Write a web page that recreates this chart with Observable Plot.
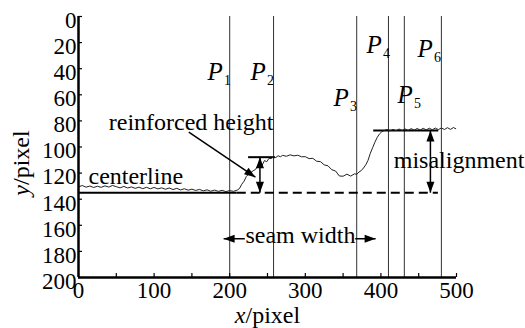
<!DOCTYPE html>
<html><head><meta charset="utf-8">
<script src="https://cdn.jsdelivr.net/npm/d3@7"></script>
<script src="https://cdn.jsdelivr.net/npm/@observablehq/plot@0.6"></script>
<style>body{margin:0;background:#fff} svg text{font-family:"Liberation Serif","Times New Roman","DejaVu Serif",serif !important}</style>
</head><body><div id="chart"></div>
<script>
// ---- data ----
const xTickLabels = [0, 100, 200, 300, 400, 500];
const xTickMarks = [0, 50, 100, 150, 200, 250, 300, 350, 400, 450, 500];
const yTickLabels = [0, 20, 40, 60, 80, 100, 120, 140, 160, 180, 200];

const profileX = [0,5,10,15,20,25,30,35,40,45,50,55,60,65,70,75,80,85,90,95,100,105,110,115,120,125,130,135,140,145,150,155,160,165,170,175,180,185,190,195,200,205,210,
  213,216,219,222,225,228,231,234,237,240,243,246,249,252,255,258,261,264,267,270,275,280,285,290,295,300,305,310,315,320,325,330,335,340,345,350,355,360,365,
  368,371,374,377,380,383,386,389,392,395,398,401,404,408,412,416,420,424,428,432,436,440,444,448,452,456,460,464,468,472,476,480,484,488,492,496,499];
const profileY = [130.6,129.5,130.8,129.9,131.0,130.1,130.9,129.8,130.7,129.5,130.4,131.3,130.2,131.4,130.6,131.7,130.8,131.9,130.9,132.0,131.0,132.1,131.3,132.4,131.4,132.6,131.7,132.9,132.0,133.1,132.3,133.3,132.5,133.6,132.8,133.9,133.0,134.0,133.2,134.2,133.4,134.0,133.0,
  131.8,128.5,126.2,122.6,120.8,119.6,118.2,117.3,114.6,112.4,113.9,110.4,111.3,108.7,108.9,107.3,108.1,106.7,107.5,106.4,107.1,106.0,106.8,106.3,107.5,107.4,108.9,108.7,110.9,111.2,113.7,114.4,117.4,118.4,122.2,122.4,120.8,122.3,120.6,
  120.9,119.2,118.1,116.1,113.6,110.2,104.8,100.6,96.4,92.8,90.1,88.4,87.4,86.6,87.7,86.5,87.6,86.2,87.4,86.1,87.3,85.9,87.1,85.8,87.0,85.7,86.9,85.6,86.8,85.5,86.7,85.4,86.6,85.2,86.5,85.1,86.0];

const pNames = ["1", "2", "3", "4", "5", "6"];
const pLineX = [200, 258, 368, 410, 431, 480];
const pLabelX = [170.6, 227.5, 337.2, 380.8, 421.8, 448.3];
const pLabelY = [49, 49, 68.2, 28.3, 66.6, 31.4];

const annoText = ["reinforced height", "centerline", "seam width", "misalignment"];
const annoX = [40, 13.2, 220.8, 417];
const annoY = [87.3, 128.2, 173.6, 115.9];

const centerY = 135;
const reinfTopY = 107.8, reinfX1 = 225, reinfX2 = 260.5, reinfArrowX = 240;
const misTopY = 87.3, misX1 = 390.5, misX2 = 476.5, misArrowX = 465.5;
const solidEndX = 210, dashEndX = 476;
const seamY = 170.3, seamLeftTip = 192, seamLeftStart = 220, seamRightStart = 366, seamRightTip = 393;
const diagX1 = 145.9, diagY1 = 88.6, diagX2 = 234, diagY2 = 123.1;

// ---- tables ----
const profile = profileX.map((x, i) => ({x, y: profileY[i]}));
const pLabels = pNames.map((n, i) => ({n, x: pLabelX[i], y: pLabelY[i]}));
const annos = annoText.map((t, i) => ({t, x: annoX[i], y: annoY[i]}));
const shafts = [
  {x1: reinfArrowX, y1: reinfTopY, x2: reinfArrowX, y2: centerY},
  {x1: misArrowX, y1: misTopY, x2: misArrowX, y2: centerY},
  {x1: seamLeftStart, y1: seamY, x2: seamLeftTip, y2: seamY},
  {x1: seamRightStart, y1: seamY, x2: seamRightTip, y2: seamY},
  {x1: diagX1, y1: diagY1, x2: diagX2, y2: diagY2}
];
const heads = [
  {x: reinfArrowX, y: reinfTopY, r: 0},
  {x: reinfArrowX, y: centerY, r: 180},
  {x: misArrowX, y: misTopY, r: 0},
  {x: misArrowX, y: centerY, r: 180},
  {x: seamLeftTip, y: seamY, r: -90},
  {x: seamRightTip, y: seamY, r: 90},
  {x: diagX2, y: diagY2, r: 124}
];
const arrowHead = {draw(ctx) { ctx.moveTo(0, 0); ctx.lineTo(-4, 11); ctx.lineTo(4, 11); ctx.closePath(); }};
const serif = "Liberation Serif";

const chart = Plot.plot({
  width: 525, height: 328,
  marginLeft: 78, marginRight: 69, marginTop: 16, marginBottom: 51,
  x: {domain: [0, 500], axis: null},
  y: {domain: [0, 200], reverse: true, axis: null},
  style: {fontFamily: serif, fontSize: "23px", color: "black", background: "white"},
  marks: [
    Plot.ruleX(pLineX, {stroke: "#333", strokeWidth: 1}),
    Plot.ruleY([centerY], {x1: 0, x2: solidEndX, stroke: "black", strokeWidth: 2}),
    Plot.ruleY([centerY], {x1: solidEndX, x2: dashEndX, stroke: "black", strokeWidth: 2, strokeDasharray: "9,5"}),
    Plot.ruleY([reinfTopY], {x1: reinfX1, x2: reinfX2, stroke: "black", strokeWidth: 2}),
    Plot.ruleY([misTopY], {x1: misX1, x2: misX2, stroke: "black", strokeWidth: 2}),
    Plot.line(profile, {x: "x", y: "y", stroke: "#222", strokeWidth: 1}),
    Plot.link(shafts, {x1: "x1", y1: "y1", x2: "x2", y2: "y2", stroke: "black", strokeWidth: 1.5}),
    Plot.dot(heads, {x: "x", y: "y", rotate: "r", symbol: arrowHead, fill: "black", stroke: "none"}),
    // axes
    Plot.ruleX([0], {stroke: "black", strokeWidth: 2.5}),
    Plot.ruleY([200], {x1: 0, x2: 500, stroke: "black", strokeWidth: 2.5}),
    Plot.tickX(xTickMarks, {x: d => d, insetTop: 257, stroke: "black", strokeWidth: 1.2}),
    Plot.tickY(yTickLabels, {y: d => d, insetRight: 374, stroke: "black", strokeWidth: 1.2}),
    Plot.text(xTickLabels, {x: d => d, y: 200, dy: 4, lineAnchor: "top", fontSize: 23, fontFamily: serif}),
    Plot.text(yTickLabels, {x: 0, y: d => d, dx: -2, dy: 4, textAnchor: "end", lineAnchor: "middle", fontSize: 23, fontFamily: serif}),
    // axis titles
    Plot.text(["x"], {frameAnchor: "bottom", dx: -22, dy: 45, textAnchor: "end", lineAnchor: "bottom", fontStyle: "italic", fontSize: 24, fontFamily: serif, text: d => d}),
    Plot.text(["/pixel"], {frameAnchor: "bottom", dx: -22, dy: 45, textAnchor: "start", lineAnchor: "bottom", fontSize: 24, fontFamily: serif, text: d => d}),
    Plot.text(["y"], {frameAnchor: "left", dx: -50, dy: 38, rotate: -90, textAnchor: "end", lineAnchor: "bottom", fontStyle: "italic", fontSize: 24, fontFamily: serif, text: d => d}),
    Plot.text(["/pixel"], {frameAnchor: "left", dx: -50, dy: 38, rotate: -90, textAnchor: "start", lineAnchor: "bottom", fontSize: 24, fontFamily: serif, text: d => d}),
    // P labels
    Plot.text(pLabels, {x: "x", y: "y", text: () => "P", fontStyle: "italic", fontSize: 25, fontFamily: serif, textAnchor: "start", lineAnchor: "bottom"}),
    Plot.text(pLabels, {x: "x", y: "y", text: "n", dx: 16.5, dy: 5, fontSize: 14, fontFamily: serif, textAnchor: "start", lineAnchor: "bottom"}),
    // annotations
    Plot.text(annos, {x: "x", y: "y", text: "t", fontSize: 24, fontFamily: serif, textAnchor: "start", lineAnchor: "bottom"})
  ]
});
document.getElementById("chart").appendChild(chart);
</script>
</body></html>
